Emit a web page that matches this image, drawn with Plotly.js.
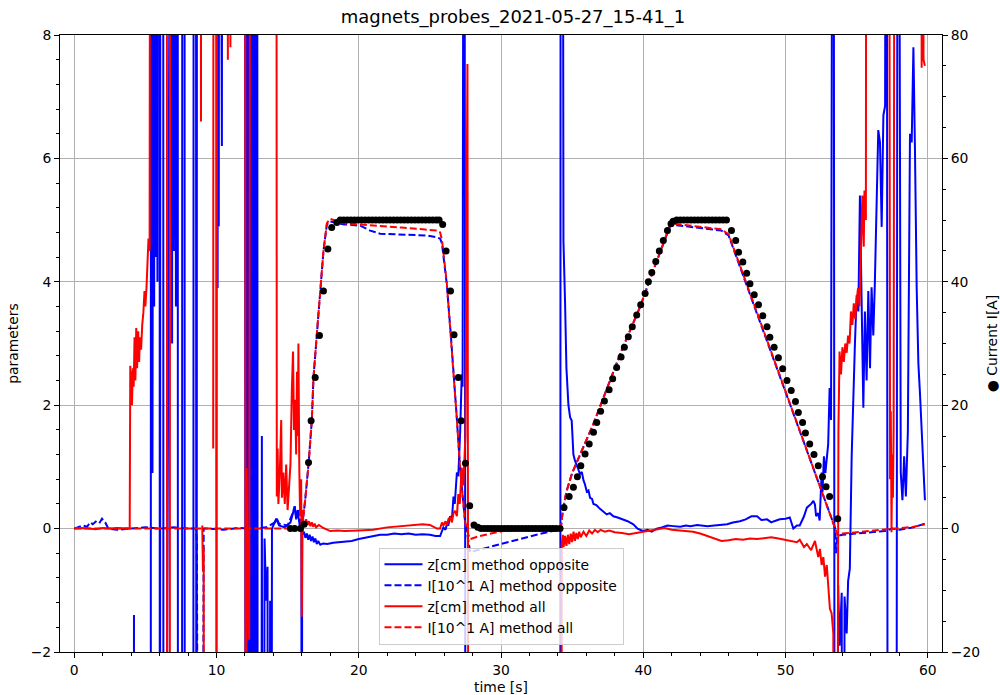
<!DOCTYPE html>
<html>
<head>
<meta charset="utf-8">
<script src="https://cdn.plot.ly/plotly-3.0.1.min.js"></script>
<style>html,body{margin:0;padding:0;background:#fff;}#plot{width:1000px;height:695px;}</style>
</head>
<body>
<div id="plot"></div>
<script>
// ---- z[cm] method opposite (blue solid) ----
const tZOpp = [0,4.19,4.2,4.21,5.37,5.4,5.47,5.5,5.53,5.6,5.62,5.66,5.72,5.76,5.85,5.9,6.0,6.02,6.06,6.25,6.28,6.33,6.85,6.88,6.92,7.0,7.05,7.15,7.2,7.27,7.3,7.57,7.6,7.75,7.78,8.36,8.4,8.55,8.6,8.63,10.05,10.08,10.12,10.16,10.2,10.38,10.42,12.0,12.05,12.1,12.15,12.2,12.28,12.33,12.4,12.45,12.52,12.58,12.65,12.7,12.78,12.85,12.92,13.1,13.19,13.25,13.38,13.49,13.59,13.66,13.77,13.82,13.9,14.0,14.2,14.4,14.8,15.2,15.37,15.5,15.6,15.7,15.85,15.97,16.0,16.02,16.05,16.15,16.25,16.35,16.45,16.55,16.65,16.75,16.85,16.95,17.05,17.15,17.3,17.5,17.8,18.2,18.6,19.0,19.5,20.0,20.5,21.0,21.5,22.0,22.5,23.0,23.5,24.0,24.5,25.0,25.4,25.72,25.85,25.95,26.1,26.2,26.3,26.42,26.55,26.66,26.75,26.9,27.0,27.13,27.24,27.3,27.41,27.55,34.15,34.2,34.3,34.39,34.5,34.6,34.74,34.86,34.97,35.09,35.2,35.32,35.45,35.56,35.68,35.8,35.9,36.03,36.15,36.26,36.4,36.5,36.7,36.96,37.2,37.43,37.65,37.9,38.2,38.6,38.9,39.3,39.6,40.0,40.3,40.6,40.95,41.3,41.7,42.1,42.6,43.0,43.3,43.8,44.5,45.0,45.5,45.9,46.3,46.8,47.2,47.6,48.0,48.3,48.7,49.0,49.2,49.6,50.0,50.3,50.55,50.8,51.0,51.3,51.5,51.8,51.96,52.07,52.15,52.3,52.4,52.54,52.6,52.7,52.8,53.0,53.1,53.2,53.36,53.5,53.7,53.8,53.95,54.05,54.15,54.3,54.4,54.52,54.65,54.77,54.88,55.0,55.12,55.23,55.35,55.47,55.58,55.7,55.82,55.94,56.05,56.17,56.28,56.4,56.52,56.64,56.76,56.88,57.0,57.1,57.22,57.75,57.9,58.1,58.22,58.34,58.46,58.6,58.75,58.87,58.99,59.1,59.22,59.34,59.45,59.8];
const zOpp = [-20,-20,-1.4,-20,-20,20,20,0.9,20,20,3.6,20,4.4,20,4.0,20,20,-20,20,20,-20,20,20,3.0,20,4.5,20,3.6,20,20,-20,-20,20,20,-20,-20,20,20,-20,20,20,3.9,20,4.9,20,6.2,20,20,-20,20,-20,20,-20,20,-20,20,-20,20,-20,20,-20,20,-20,-20,1.5,-20,-0.16,-1.17,-0.62,-20,-1.17,-20,0.0,0.05,0.16,0.05,0.02,0.1,0.26,0.36,0.15,0.3,0.05,-0.05,-20,0.12,-0.09,-0.05,-0.15,-0.08,-0.18,-0.1,-0.2,-0.13,-0.22,-0.16,-0.25,-0.2,-0.26,-0.24,-0.25,-0.23,-0.22,-0.21,-0.2,-0.17,-0.15,-0.12,-0.1,-0.1,-0.08,-0.09,-0.08,-0.1,-0.09,-0.1,-0.12,-0.12,-0.05,0.02,-0.02,0.08,0.05,0.2,0.15,0.52,0.4,0.91,0.85,1.57,2.5,2.3,20,-20,-20,20,20,4.66,3.69,2.6,2.0,1.8,1.75,1.2,1.1,1.04,0.95,0.88,0.92,0.78,0.72,0.6,0.62,0.5,0.48,0.4,0.38,0.32,0.28,0.23,0.25,0.2,0.18,0.15,0.12,0.07,0.0,-0.04,-0.02,-0.05,0.0,0.02,0.05,0.04,0.03,0.05,0.04,0.06,0.04,0.05,0.06,0.07,0.1,0.12,0.15,0.2,0.2,0.14,0.15,0.1,0.12,0.15,0.16,0.18,0.0,0.05,0.05,0.2,0.34,0.4,0.45,0.39,0.2,0.25,0.13,0.91,0.59,1.17,0.9,1.37,2.28,1.76,20,-20,-0.91,-1.9,-1.04,-20,-1.1,-1.7,-0.85,-0.65,1.17,2.4,3.0,3.78,3.52,5.4,3.78,1.96,3.52,2.4,3.85,2.6,3.91,3.13,3.98,5.2,6.46,6.26,4.89,6.7,6.85,20,-20,-20,20,0.91,0.46,1.17,0.52,1.57,6.4,6.26,7.8,6.13,3.9,2.67,2.2,0.46];

// ---- I[10^1 A] method opposite (blue dashed) ----
const tIOpp = [0,0.3,0.6,0.9,1.13,1.3,1.6,1.8,1.95,2.18,2.4,3.0,4.0,5.0,6.0,7.0,8.0,8.55,8.62,8.9,9.1,9.5,10.5,11.5,12.5,13.5,14.1,14.24,14.4,15.0,15.37,15.5,15.6,15.75,16.0,16.23,16.47,16.7,16.82,17.05,17.29,17.52,17.76,17.99,18.5,19.0,20.1,20.8,21.5,22.5,23.8,24.8,25.5,25.72,25.85,26.19,26.47,26.7,26.89,27.12,27.31,27.47,27.71,27.83,28.5,29.5,30.3,31.5,32.5,33.8,34.2,34.35,34.6,35.0,35.56,36.5,37.5,38.5,39.77,40.8,41.9,42.2,43.0,44.0,45.0,45.5,45.8,46.0,48.0,50.1,52.0,53.5,53.55,53.65,54.0,55.0,56.0,57.0,57.5,58.0,59.0,59.5,59.8];
const iOpp = [0,0.02,0.05,0.03,0.1,0.07,0.13,0.1,0.16,0.1,0,-0.02,0,0.02,0,0.02,0,0,-0.2,-20,0,0,-0.02,0.01,0,0.02,0.1,0.16,0.08,0.05,0.26,0.36,0.2,0.3,0,0.45,1.04,1.75,2.45,3.15,3.85,4.5,4.93,4.98,4.95,4.93,4.91,4.83,4.78,4.77,4.76,4.75,4.72,4.7,4.62,3.96,3.15,2.45,1.8,0.99,0.45,0.12,-0.2,-0.38,-0.34,-0.28,-0.22,-0.16,-0.1,-0.03,0,0.3,0.6,0.9,1.2,1.7,2.3,2.9,3.59,4.25,4.91,4.92,4.9,4.87,4.84,4.83,4.78,4.75,3.48,2.16,0.95,0,-0.4,-0.12,-0.1,-0.08,-0.06,-0.04,0.0,-0.02,0.02,0.05,0.08];

// ---- z[cm] method all (red solid) ----
const tZAll = [0,0.5,1.0,1.5,2.0,2.5,3.0,3.5,3.9,3.94,3.98,4.02,4.06,4.12,4.18,4.24,4.3,4.36,4.42,4.5,4.56,4.62,4.7,4.78,4.86,4.94,5.0,5.08,5.16,5.22,5.3,5.36,6.5,6.55,6.7,6.75,8.88,8.91,8.94,8.97,9.0,9.05,9.1,9.15,9.2,9.77,9.8,9.97,10.0,10.04,10.75,10.8,10.85,10.98,11.02,12.0,12.08,12.12,12.2,12.3,12.4,14.2,14.24,14.3,14.35,14.45,14.55,14.6,14.7,14.8,14.9,15.0,15.1,15.2,15.3,15.38,15.45,15.53,15.6,15.66,15.72,15.76,15.82,15.88,15.95,16.0,16.05,16.1,16.2,16.3,16.4,16.5,16.6,16.7,16.8,16.9,17.0,17.2,17.5,18.0,18.5,19.0,20.0,21.0,22.0,23.0,24.0,24.5,25.0,25.5,25.72,25.85,25.95,26.1,26.2,26.3,26.42,26.55,26.66,26.77,26.9,27.0,27.1,27.24,27.35,27.5,27.64,27.78,34.2,34.27,34.35,34.4,34.5,34.6,34.7,34.8,34.9,35.0,35.1,35.2,35.3,35.4,35.5,35.6,35.8,36.0,36.2,36.4,36.6,36.8,37.0,37.3,37.6,38.0,38.5,39.0,39.5,40.0,40.5,41.0,41.5,42.0,42.5,43.0,43.5,44.0,44.5,45.0,45.5,46.0,46.5,47.0,47.5,48.0,48.5,49.0,49.5,50.0,50.5,50.8,51.0,51.3,51.5,51.8,52.07,52.2,52.3,52.42,52.54,52.66,52.78,52.9,53.0,53.12,53.24,53.36,53.48,53.6,53.67,53.72,53.8,53.9,54.0,54.1,54.2,54.3,54.4,54.5,54.6,54.7,54.8,54.9,55.0,55.1,55.2,55.3,55.4,55.5,55.55,55.65,55.7,57.25,57.3,57.35,57.4,57.45,57.5,57.55,57.6,57.7,59.5,59.57,59.65,59.7,59.8];
const zAll = [0,0.01,0,-0.01,0.01,0,0.01,0,0,2.64,2.2,2.55,2.0,2.6,2.3,3.1,2.4,3.25,2.6,3.2,2.7,3.1,2.9,3.3,3.5,3.85,3.6,3.9,4.6,4.7,4.5,20,20,-20,-20,20,20,6.6,20,null,0.05,-0.7,-0.3,-20,null,1.3,20,20,-20,20,20,7.6,20,7.8,20,20,-20,0.98,-1.0,-1.8,20,20,0.52,1.3,0.4,0.9,1.76,0.5,0.91,0.4,1.04,0.3,0.6,1.04,2.28,2.87,1.6,2.09,1.2,2.54,1.5,3.0,1.0,0.2,0.8,-1.43,0.3,0.12,0.05,0.15,0.06,0.12,0.04,0.1,0.03,0.08,0.02,0.06,0.01,-0.04,-0.03,-0.04,-0.03,-0.02,0.02,0.04,0.05,0.07,0.06,0.0,0.0,0.1,0.05,0.12,0.05,0.15,0.18,0.1,0.25,0.29,0.2,0.56,0.4,0.99,0.7,1.5,7.53,-20,-20,-0.25,-0.1,-0.3,-0.12,-0.28,-0.1,-0.25,-0.08,-0.22,-0.05,-0.2,-0.07,-0.17,-0.05,-0.14,-0.05,-0.12,-0.03,-0.08,-0.02,-0.06,-0.02,-0.05,-0.03,-0.06,-0.07,-0.09,-0.07,-0.05,-0.03,0.0,0.01,-0.02,-0.03,-0.05,-0.05,-0.08,-0.12,-0.15,-0.2,-0.19,-0.17,-0.18,-0.16,-0.17,-0.15,-0.14,-0.16,-0.18,-0.2,-0.22,-0.18,-0.3,-0.25,-0.35,-0.2,-0.39,-0.46,-0.33,-0.59,-0.46,-0.78,-0.59,-0.91,-1.3,-1.37,-1.7,-20,-20,1.0,1.6,2.87,2.5,2.94,2.7,3.0,2.85,3.13,3.0,3.52,3.3,3.65,3.4,3.7,3.9,3.6,4.43,5.4,4.57,5.48,5.0,20,20,1.5,0.8,1.9,-0.06,1.2,0.5,1.6,20,20,7.47,20,7.6,7.5];

// ---- I[10^1 A] method all (red dashed) ----
const tIAll = [0,2.0,4.0,6.0,8.0,10.0,12.0,14.0,16.0,16.23,16.47,16.7,16.82,17.05,17.29,17.52,17.76,17.99,18.5,19.0,20.0,21.5,23.0,24.5,25.5,25.72,25.85,26.19,26.47,26.7,26.89,27.12,27.31,27.47,27.71,27.83,28.5,29.5,30.3,31.5,33.0,34.2,34.35,34.6,35.0,35.56,36.5,37.5,38.5,39.77,40.8,41.9,42.2,43.0,44.0,45.0,45.5,45.8,46.0,48.0,50.1,52.0,53.5,53.65,54.0,55.0,56.0,57.0,58.0,59.0,59.8];
const iAll = [0,0,0,0,0,0,0,0,0,0.45,1.04,1.75,2.45,3.15,3.85,4.5,4.95,5.02,4.98,4.95,4.93,4.91,4.88,4.85,4.83,4.8,4.68,3.98,3.16,2.45,1.8,0.99,0.45,0.12,-0.1,-0.17,-0.12,-0.07,-0.03,-0.01,0,0,0.3,0.6,0.9,1.2,1.7,2.3,2.9,3.59,4.25,4.93,4.94,4.92,4.89,4.86,4.85,4.8,4.77,3.5,2.16,0.95,0,-0.1,-0.08,-0.06,-0.04,-0.02,0.0,0.03,0.07];

// ---- Current I[A] (black dots, right axis) ----
const tCur = [15.2,15.5,15.9,16.16,16.47,16.65,16.94,17.24,17.52,17.83,18.1,18.46,18.7,18.95,19.2,19.45,19.7,19.95,20.2,20.45,20.7,20.95,21.2,21.45,21.7,21.95,22.2,22.45,22.7,22.95,23.2,23.45,23.7,23.95,24.2,24.45,24.7,24.95,25.2,25.45,25.65,25.9,26.14,26.45,26.7,27.0,27.2,27.5,27.8,28.1,28.37,28.6,28.84,29.08,29.32,29.56,29.8,30.04,30.28,30.52,30.76,31.0,31.24,31.48,31.72,31.96,32.2,32.44,32.68,32.92,33.16,33.4,33.64,33.88,34.15,34.43,34.79,35.09,35.37,35.61,35.91,36.2,36.5,36.73,37.0,37.27,37.6,37.85,38.13,38.44,38.67,38.95,39.23,39.54,39.82,40.13,40.36,40.6,40.88,41.13,41.41,41.7,41.95,42.1,42.35,42.6,42.85,43.1,43.35,43.6,43.85,44.1,44.35,44.6,44.85,45.1,45.35,45.6,45.85,46.2,46.5,46.7,47.0,47.27,47.5,47.8,48.1,48.4,48.7,48.9,49.2,49.5,49.8,50.1,50.4,50.7,50.9,51.2,51.4,51.7,52.0,52.3,52.6,52.85,53.1,53.67];
const current = [0,0,0,0.7,10.7,17.5,24.5,31.3,38.5,45.3,48.8,49.6,50,50,50,50,50,50,50,50,50,50,50,50,50,50,50,50,50,50,50,50,50,50,50,50,50,50,50,50,50,49.3,45.0,38.5,31.4,24.5,17.5,10.6,3.7,0.6,0.2,0,0,0,0,0,0,0,0,0,0,0,0,0,0,0,0,0,0,0,0,0,0,0,0,3.4,5.2,6.7,8.4,10.2,12.1,13.7,15.6,17.2,19.0,20.7,22.5,24.3,26.1,27.8,29.4,31.1,32.7,34.6,36.3,38.1,40.0,41.5,43.3,45.0,46.7,48.3,49.4,49.8,50,50,50,50,50,50,50,50,50,50,50,50,50,50,50,48.3,46.7,44.8,43.2,41.4,39.7,37.9,36.3,34.5,32.7,31.0,29.4,27.7,25.9,24.0,22.4,20.6,18.8,17.2,15.5,13.7,12.0,10.2,8.4,6.8,5.2,1.6];

const FONT = 'DejaVu Sans';
const dashPat = '7px,3px';

const traces = [
  {x: tZOpp, y: zOpp, name: 'z[cm] method opposite', mode: 'lines', legendgroup: 'a',
   line: {color: '#0000ff', width: 2}},
  {x: tIOpp, y: iOpp, name: 'I[10^1 A] method opposite', mode: 'lines', legendgroup: 'b',
   line: {color: '#0000ff', width: 2, dash: dashPat}},
  {x: tZAll, y: zAll, name: 'z[cm] method all', mode: 'lines', legendgroup: 'c',
   line: {color: '#ff0000', width: 2}},
  {x: tIAll, y: iAll, name: 'I[10^1 A] method all', mode: 'lines', legendgroup: 'd',
   line: {color: '#ff0000', width: 2, dash: dashPat}},
  {x: tCur, y: current, yaxis: 'y2', mode: 'markers', showlegend: false,
   marker: {color: '#000000', size: 7}}
];

const axisCommon = {
  showline: true, linecolor: '#000', linewidth: 1,
  ticks: 'outside', ticklen: 5, tickwidth: 1, tickcolor: '#000',
  tickfont: {family: FONT, size: 13.9, color: '#000'},
  zeroline: false
};

const layout = {
  width: 1000, height: 695,
  paper_bgcolor: '#fff', plot_bgcolor: '#fff',
  margin: {l: 60, r: 58, t: 35, b: 43},
  font: {family: FONT, size: 13.9, color: '#000'},
  title: {text: 'magnets_probes_2021-05-27_15-41_1', font: {family: FONT, size: 18, color: '#000'},
          x: 0.513, xanchor: 'center', y: 1 - 17/695, yanchor: 'middle'},
  showlegend: true,
  legend: {x: 0.5, xanchor: 'center', y: 0.012, yanchor: 'bottom', itemwidth: 38,
           bgcolor: 'rgba(255,255,255,0.8)', bordercolor: '#cccccc', borderwidth: 1,
           font: {family: FONT, size: 13.9, color: '#000'}, tracegroupgap: 3, traceorder: 'normal'},
  xaxis: Object.assign({}, axisCommon, {
    range: [-1, 61], tickmode: 'linear', tick0: 0, dtick: 10, mirror: true,
    showgrid: true, gridcolor: '#b0b0b0', gridwidth: 1,
    minor: {ticks: 'outside', ticklen: 3, tickcolor: '#000', tickwidth: 1, dtick: 2, tick0: 0, showgrid: false},
    title: {text: 'time [s]', font: {family: FONT, size: 13.9, color: '#000'}, standoff: 6}
  }),
  yaxis: Object.assign({}, axisCommon, {
    range: [-2, 8], tickmode: 'linear', tick0: 0, dtick: 2,
    showgrid: true, gridcolor: '#b0b0b0', gridwidth: 1,
    minor: {ticks: 'outside', ticklen: 3, tickcolor: '#000', tickwidth: 1, dtick: 0.4, tick0: 0, showgrid: false},
    title: {text: 'parameters', font: {family: FONT, size: 13.9, color: '#000'}, standoff: 8}
  }),
  yaxis2: Object.assign({}, axisCommon, {
    range: [-20, 80], tickmode: 'linear', tick0: 0, dtick: 20,
    overlaying: 'y', side: 'right', showgrid: false,
    minor: {ticks: 'outside', ticklen: 3, tickcolor: '#000', tickwidth: 1, dtick: 5, tick0: 0, showgrid: false},
    title: {text: '● Current I[A]', font: {family: FONT, size: 13.9, color: '#000'}, standoff: 8}
  })
};

Plotly.newPlot('plot', traces, layout, {staticPlot: true, displayModeBar: false});
</script>
</body>
</html>
